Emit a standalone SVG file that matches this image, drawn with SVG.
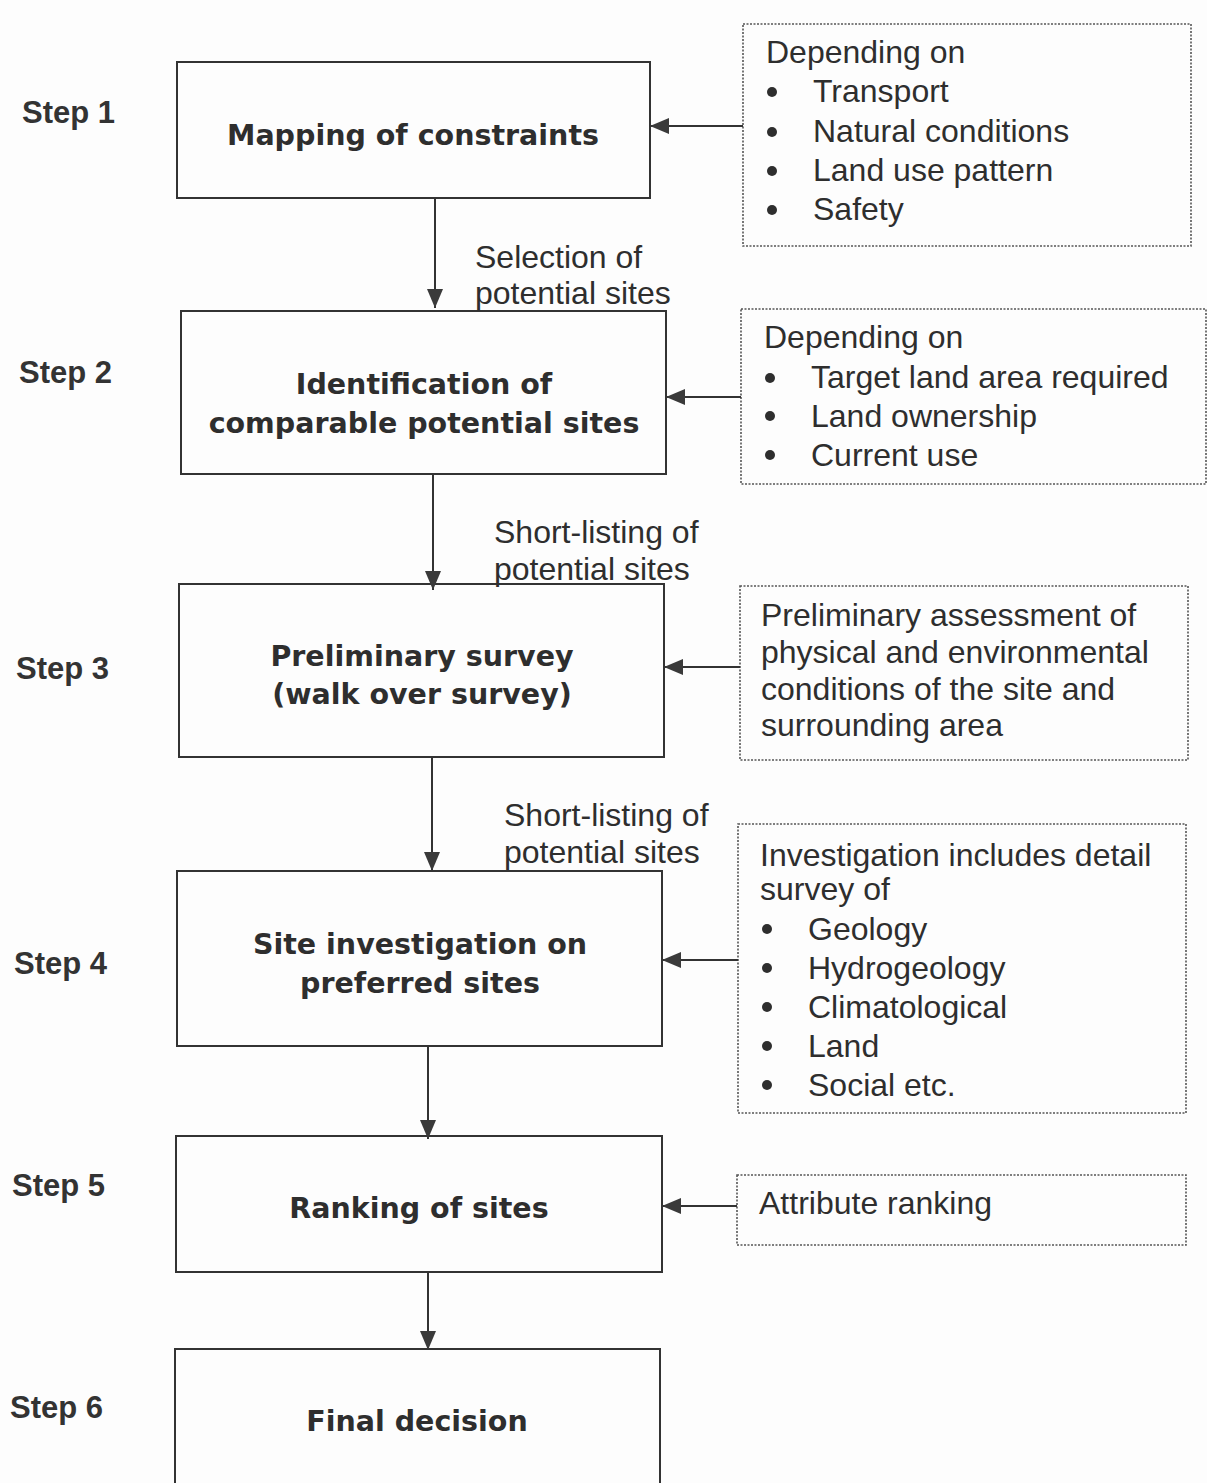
<svg xmlns="http://www.w3.org/2000/svg" width="1207" height="1483" viewBox="0 0 1207 1483">
<defs>
<marker id="ah" markerUnits="userSpaceOnUse" markerWidth="20" markerHeight="18" refX="19" refY="9" orient="auto">
<path d="M0,1 L19,9 L0,17 Z" fill="#3a3a3a"/>
</marker>
<style>
.box{fill:none;stroke:#333;stroke-width:2}
.dot{fill:none;stroke:#555;stroke-width:1.6;stroke-dasharray:2 1.5}
.title{font-family:"DejaVu Sans",Verdana,sans-serif;font-weight:bold;font-size:28.5px;fill:#2e2e2e;text-anchor:middle}
.step{font-family:"Liberation Sans",Arial,sans-serif;font-weight:bold;font-size:31px;fill:#333}
.body{font-family:"Liberation Sans",Arial,sans-serif;font-size:32px;fill:#2e2e2e}
.conn{stroke:#333;stroke-width:2;fill:none;marker-end:url(#ah)}
</style>
</defs>
<rect width="1207" height="1483" fill="#fdfdfd"/>

<g id="step-labels">
<text class="step" x="22" y="123">Step 1</text>
<text class="step" x="19" y="383">Step 2</text>
<text class="step" x="16" y="679">Step 3</text>
<text class="step" x="14" y="974">Step 4</text>
<text class="step" x="12" y="1196">Step 5</text>
<text class="step" x="10" y="1418">Step 6</text>
</g>

<g id="node1">
<rect class="box" x="177" y="62" width="473" height="136"/>
<text class="title" x="413" y="145">Mapping of constraints</text>
</g>
<g id="node2">
<rect class="box" x="181" y="311" width="485" height="163"/>
<text class="title" x="424" y="394">Identification of</text>
<text class="title" x="424" y="433">comparable potential sites</text>
</g>
<g id="node3">
<rect class="box" x="179" y="584" width="485" height="173"/>
<text class="title" x="422" y="666">Preliminary survey</text>
<text class="title" x="422" y="704">(walk over survey)</text>
</g>
<g id="node4">
<rect class="box" x="177" y="871" width="485" height="175"/>
<text class="title" x="420" y="954">Site investigation on</text>
<text class="title" x="420" y="993">preferred sites</text>
</g>
<g id="node5">
<rect class="box" x="176" y="1136" width="486" height="136"/>
<text class="title" x="419" y="1218">Ranking of sites</text>
</g>
<g id="node6">
<rect class="box" x="175" y="1349" width="485" height="140"/>
<text class="title" x="417" y="1431">Final decision</text>
</g>

<g id="note1">
<rect class="dot" x="743" y="24" width="448" height="222"/>
<text class="body" x="766" y="63">Depending on</text>
<circle cx="772" cy="92" r="5" fill="#2e2e2e"/><text class="body" x="813" y="102">Transport</text>
<circle cx="772" cy="132" r="5" fill="#2e2e2e"/><text class="body" x="813" y="142">Natural conditions</text>
<circle cx="772" cy="171" r="5" fill="#2e2e2e"/><text class="body" x="813" y="181">Land use pattern</text>
<circle cx="772" cy="210" r="5" fill="#2e2e2e"/><text class="body" x="813" y="220">Safety</text>
</g>
<g id="note2">
<rect class="dot" x="741" y="309" width="465" height="175"/>
<text class="body" x="764" y="348">Depending on</text>
<circle cx="770" cy="378" r="5" fill="#2e2e2e"/><text class="body" x="811" y="388">Target land area required</text>
<circle cx="770" cy="416" r="5" fill="#2e2e2e"/><text class="body" x="811" y="427">Land ownership</text>
<circle cx="770" cy="455" r="5" fill="#2e2e2e"/><text class="body" x="811" y="466">Current use</text>
</g>
<g id="note3">
<rect class="dot" x="740" y="586" width="448" height="174"/>
<text class="body" x="761" y="626">Preliminary assessment of</text>
<text class="body" x="761" y="663">physical and environmental</text>
<text class="body" x="761" y="700">conditions of the site and</text>
<text class="body" x="761" y="736">surrounding area</text>
</g>
<g id="note4">
<rect class="dot" x="738" y="824" width="448" height="289"/>
<text class="body" x="760" y="866">Investigation includes detail</text>
<text class="body" x="760" y="900">survey of</text>
<circle cx="767" cy="929" r="5" fill="#2e2e2e"/><text class="body" x="808" y="940">Geology</text>
<circle cx="767" cy="968" r="5" fill="#2e2e2e"/><text class="body" x="808" y="979">Hydrogeology</text>
<circle cx="767" cy="1007" r="5" fill="#2e2e2e"/><text class="body" x="808" y="1018">Climatological</text>
<circle cx="767" cy="1046" r="5" fill="#2e2e2e"/><text class="body" x="808" y="1057">Land</text>
<circle cx="767" cy="1085" r="5" fill="#2e2e2e"/><text class="body" x="808" y="1096">Social etc.</text>
</g>
<g id="note5">
<rect class="dot" x="737" y="1175" width="449" height="70"/>
<text class="body" x="759" y="1214">Attribute ranking</text>
</g>

<g id="connectors">
<line class="conn" x1="435" y1="198" x2="435" y2="308"/>
<line class="conn" x1="433" y1="474" x2="433" y2="590"/>
<line class="conn" x1="432" y1="757" x2="432" y2="871"/>
<line class="conn" x1="428" y1="1046" x2="428" y2="1139"/>
<line class="conn" x1="428" y1="1272" x2="428" y2="1350"/>
<line class="conn" x1="743" y1="126" x2="650" y2="126"/>
<line class="conn" x1="741" y1="397" x2="666" y2="397"/>
<line class="conn" x1="740" y1="667" x2="664" y2="667"/>
<line class="conn" x1="738" y1="960" x2="662" y2="960"/>
<line class="conn" x1="737" y1="1206" x2="662" y2="1206"/>
<text class="body" x="475" y="268">Selection of</text>
<text class="body" x="475" y="304">potential sites</text>
<text class="body" x="494" y="543">Short-listing of</text>
<text class="body" x="494" y="580">potential sites</text>
<text class="body" x="504" y="826">Short-listing of</text>
<text class="body" x="504" y="863">potential sites</text>
</g>
</svg>
